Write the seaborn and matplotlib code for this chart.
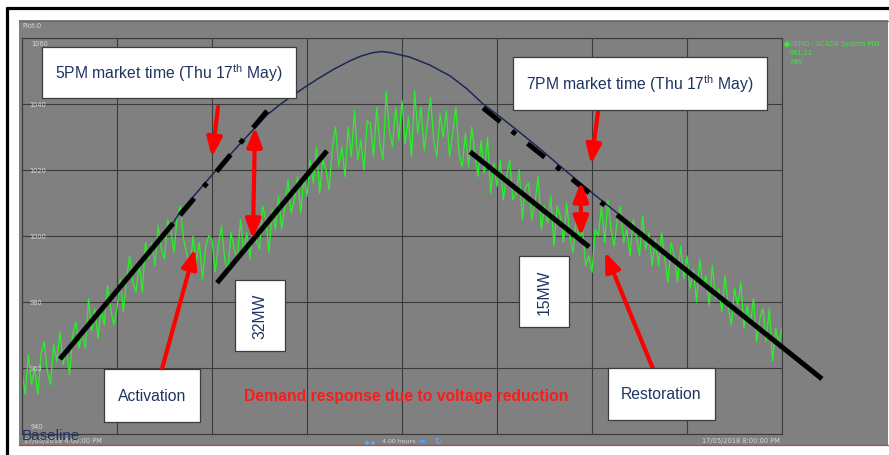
import matplotlib
matplotlib.use("Agg")
import matplotlib.pyplot as plt
import seaborn as sns
from matplotlib.patches import Rectangle

# ---------------- data ----------------
minutes = list(range(241))  # minutes after 17/05/2018 4:00 PM
scada_mw = [
    959, 952, 964, 955, 960, 952, 964, 968, 959, 955, 967, 962, 971, 961, 966, 958, 970, 974, 966, 971,
    966, 981, 971, 978, 969, 978, 973, 985, 978, 973,
    978, 987, 977, 987, 994, 986, 983, 992, 983, 998, 993, 998, 991, 1003, 996, 993, 1005, 1002, 995, 1006,
    1009, 999, 995, 989, 1000, 992, 998, 987, 997, 1000,
    999, 989, 997, 1003, 993, 989, 1001, 996, 993, 1005, 995, 1001, 993, 1005, 999, 996, 1009, 1005, 995, 1008,
    1002, 1012, 1002, 1009, 1017, 1007, 1011, 1018, 1007, 1018,
    1012, 1023, 1016, 1027, 1013, 1023, 1020, 1014, 1027, 1033, 1021, 1027, 1018, 1033, 1024, 1038, 1023, 1029, 1020, 1035,
    1034, 1024, 1039, 1028, 1023, 1044, 1032, 1027, 1039, 1029,
    1041, 1028, 1036, 1024, 1044, 1031, 1039, 1026, 1034, 1042, 1029, 1024, 1037, 1030, 1038, 1024, 1031, 1039, 1025, 1021,
    1031, 1021, 1033, 1025, 1018, 1029, 1019, 1030, 1013, 1022,
    1015, 1023, 1011, 1018, 1023, 1011, 1013, 1020, 1005, 1015, 1016, 1005, 1010, 1018, 1002, 1009, 1004, 1012, 997, 1009,
    1006, 998, 1010, 1000, 995, 1005, 999, 1002, 991, 994,
    989, 1002, 1000, 1009, 998, 1011, 1002, 997, 1005, 1009, 998, 1002, 994, 1005, 1000, 994, 1006, 996, 1001, 991,
    999, 991, 1001, 993, 986, 998, 994, 986, 997, 987,
    994, 984, 990, 980, 993, 985, 988, 979, 991, 981, 984, 977, 988, 979, 973, 984, 979, 986, 972, 979,
    973, 981, 968, 975, 978, 968, 978, 962, 972, 967, 972,
]

baseline_min = [46.7, 49.9, 60.3, 68.8, 77.4, 81.0, 84.6, 89.0, 93.2, 98.2, 103.6, 107.0, 110.5, 113.5,
                116.2, 122.5, 128.8, 135.2, 140.5, 145.6, 151.0, 156.3, 163.6, 169.9, 179.4, 187.9, 195.2]
baseline_mw = [1002.4, 1007.3, 1018.8, 1027.9, 1036.7, 1039.5, 1042.0, 1044.9, 1047.5, 1050.4, 1053.1,
               1054.5, 1055.5, 1055.9, 1055.6, 1054.2, 1051.8, 1048.5, 1044.6, 1040.0, 1036.1, 1032.1,
               1026.4, 1021.2, 1013.6, 1007.0, 1001.1]

y_ticks = [940, 960, 980, 1000, 1020, 1040, 1060]
x_grid = [0, 30, 60, 90, 120, 150, 180, 210, 240]

# fitted trend lines (minute, MW)
act_solid_min, act_solid_mw = [12.0, 47.7], [962.7, 1003.8]
act_dash_min, act_dash_mw = [49.9, 77.4], [1006.3, 1037.9]
red_left_min, red_left_mw = [61.6, 96.3], [985.8, 1025.8]
rest_dash_min, rest_dash_mw = [145.6, 184.7], [1038.8, 1008.8]
rest_solid_min, rest_solid_mw = [187.9, 252.6], [1006.4, 956.7]
red_right_min, red_right_mw = [141.5, 179.1], [1025.5, 996.7]

# arrows: (tail, tip) in (minute, MW)
arrow_5pm = ((61.9, 1039.1), (60.0, 1023.9))
arrow_32 = ((73.6, 1033.0), (72.9, 999.1))
arrow_act = ((44.2, 959.7), (54.6, 996.1))
arrow_7pm = ((181.9, 1037.6), (179.7, 1021.8))
arrow_15 = ((176.5, 1016.4), (176.5, 1000.0))
arrow_rest = ((199.3, 959.7), (184.1, 995.2))

# ---------------- style ----------------
W, H = 889, 456
plt.rcParams["font.family"] = ["Liberation Sans", "DejaVu Sans"]
plt.rcParams["mathtext.fontset"] = "custom"
plt.rcParams["mathtext.rm"] = "Liberation Sans"
plt.rcParams["lines.scale_dashes"] = False

fig = plt.figure(figsize=(W / 100, H / 100), dpi=100)
fig.patch.set_facecolor("white")

# background layer in pixel coordinates
bg = fig.add_axes([0, 0, 1, 1], zorder=-1)
bg.set_xlim(0, W)
bg.set_ylim(H, 0)
bg.axis("off")
bg.add_patch(Rectangle((19, 21), 869, 425, facecolor="#808080", edgecolor="none"))
bg.plot([19, 888], [21.5, 21.5], color="#6a6a6a", lw=0.8)
bg.plot([19, 888], [446, 446], color="#c84040", lw=0.9)
bg.plot([7, 7], [8, 456], color="black", lw=2.3, solid_capstyle="butt")
bg.plot([6, 889], [9, 9], color="black", lw=2.3, solid_capstyle="butt")
small = dict(fontsize=4.8, color="#d8d8d8", family="DejaVu Sans")
bg.text(22, 26, "Plot-0", va="center", ha="left", **small)
bg.text(24, 441.5, "17/05/2018 4:00:00 PM", va="center", ha="left", **small)
bg.text(780, 441.5, "17/05/2018 8:00:00 PM", va="center", ha="right", **small)
bg.text(382, 441.5, "4.00 hours", va="center", ha="left", fontsize=4.5, color="#d8d8d8", family="DejaVu Sans")
bg.text(365, 441.5, "\u25cf \u25cf", va="center", ha="left", fontsize=3.5, color="#5fa8ff", family="DejaVu Sans")
bg.text(418, 441.5, "\u25c0\u25b6", va="center", ha="left", fontsize=4.5, color="#4da0ff", family="DejaVu Sans")
bg.text(434, 441.5, "\u21bb", va="center", ha="left", fontsize=5.5, color="#6ab0ff", family="DejaVu Sans")
leg = dict(fontsize=4.8, color="#3be83b", family="DejaVu Sans", va="center", ha="left")
bg.text(784, 44, "\u25cfUEMG : SCADA System MW", **leg)
bg.text(790, 53, "961.11", **leg)
bg.text(790, 62, "MW", **leg)

# main plot
ax = fig.add_axes([22 / W, (H - 435) / H, 760 / W, 396 / H], zorder=1)
ax.set_facecolor("none")
ax.set_xlim(0, 240)
ax.set_ylim(940, 1060)
ax.set_xticks(x_grid)
ax.set_yticks(y_ticks)
ax.grid(True, color="#3a3a3a", lw=0.8)
ax.set_axisbelow(True)
ax.tick_params(length=0, labelbottom=False, labelleft=False)
for sp in ax.spines.values():
    sp.set_color("#3a3a3a")
    sp.set_linewidth(0.8)

for v in y_ticks:
    if v == 1060:
        ax.text(0.012, 1 - 0.004, str(v), transform=ax.transAxes, va="top", ha="left", **small)
    elif v == 940:
        ax.text(0.012, 0.012, str(v), transform=ax.transAxes, va="bottom", ha="left", **small)
    else:
        ax.text(2.4, v, str(v), va="center", ha="left", **small)

sns.lineplot(x=minutes, y=scada_mw, ax=ax, color="#2bef2b", lw=0.9, zorder=2)
sns.lineplot(x=baseline_min, y=baseline_mw, ax=ax, color="#1b2a55", lw=1.1, zorder=3, sort=False)

dashdot = (0, (15.8, 10.8, 3.6, 10.8))
blk = dict(color="black", lw=3.6, zorder=4, clip_on=False, solid_capstyle="butt")
ax.plot(act_solid_min, act_solid_mw, **blk)
ax.plot(act_dash_min, act_dash_mw, ls=dashdot, **blk)
ax.plot(red_left_min, red_left_mw, **blk)
ax.plot(rest_dash_min, rest_dash_mw, ls=dashdot, **blk)
ax.plot(rest_solid_min, rest_solid_mw, **blk)
ax.plot(red_right_min, red_right_mw, **blk)

for (tail, tip), style in [
    (arrow_5pm, "-|>"), (arrow_32, "<|-|>"), (arrow_act, "-|>"),
    (arrow_7pm, "-|>"), (arrow_15, "<|-|>"), (arrow_rest, "-|>"),
]:
    ax.annotate("", xy=tip, xytext=tail, annotation_clip=False, zorder=5,
                arrowprops=dict(arrowstyle=style + ",head_length=1.15,head_width=0.45",
                                color="#ff0000", lw=3.0, shrinkA=0, shrinkB=0, mutation_scale=10))

# overlay: text boxes in pixel coordinates
ov = fig.add_axes([0, 0, 1, 1], zorder=3)
ov.set_xlim(0, W)
ov.set_ylim(H, 0)
ov.axis("off")
navy = "#1f3461"


def box(x0, y0, x1, y1, text, rot=0):
    ov.add_patch(Rectangle((x0, y0), x1 - x0, y1 - y0, facecolor="white", edgecolor="#3c3c3c", lw=0.9))
    ov.text((x0 + x1) / 2, (y0 + y1) / 2, text, ha="center", va="center", rotation=rot,
            fontsize=11.3, color=navy)


box(42, 48, 296, 99, "5PM market time (Thu 17$^{\\mathrm{th}}$ May)")
box(513, 58, 767, 111, "7PM market time (Thu 17$^{\\mathrm{th}}$ May)")
box(104, 370, 200, 423, "Activation")
box(235, 281, 285, 352, "32MW", rot=90)
box(519, 257, 569, 328, "15MW", rot=90)
box(608, 369, 715, 421, "Restoration")
ov.text(406, 397, "Demand response due to voltage reduction", ha="center", va="center",
        fontsize=11.3, fontweight="bold", color="#ff1a1a")
ov.text(22, 440, "Baseline", ha="left", va="baseline", fontsize=11, color=navy)

fig.savefig("out.png", dpi=100, facecolor="white")
